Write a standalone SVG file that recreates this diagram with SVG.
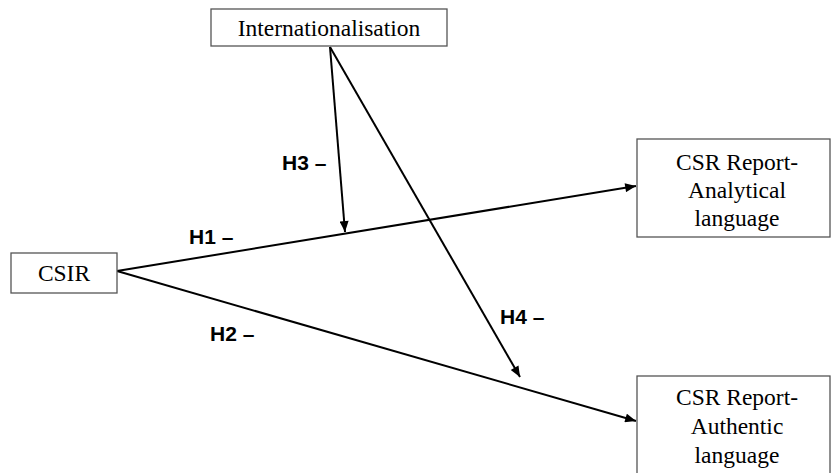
<svg xmlns="http://www.w3.org/2000/svg" width="831" height="473" viewBox="0 0 831 473">
<style>
.box{fill:#fff;stroke:#555;stroke-width:1.3}
.t{font-family:"Liberation Serif","Times New Roman",serif;font-size:23.5px;fill:#000;text-anchor:middle}
.h{font-family:"Liberation Sans",Arial,sans-serif;font-size:21px;font-weight:bold;fill:#000}
.c{stroke:#000;stroke-width:2;fill:none}
</style>
<defs>
<marker id="a" viewBox="0 0 12 10" refX="12" refY="5" markerWidth="12" markerHeight="9" orient="auto" markerUnits="userSpaceOnUse">
<path d="M0,0 L12,5 L0,10 z" fill="#000"/>
</marker>
</defs>
<g id="connectors">
<line class="c" x1="117" y1="271" x2="636" y2="186" marker-end="url(#a)"/>
<line class="c" x1="117" y1="271" x2="636" y2="421" marker-end="url(#a)"/>
<line class="c" x1="330" y1="47" x2="345" y2="232" marker-end="url(#a)"/>
<line class="c" x1="330" y1="47" x2="520" y2="377" marker-end="url(#a)"/>
</g>
<g id="internationalisation">
<rect class="box" x="211" y="9" width="236" height="37"/>
<text class="t" x="329" y="36">Internationalisation</text>
</g>
<g id="csir">
<rect class="box" x="11" y="253" width="106" height="40"/>
<text class="t" x="64" y="281">CSIR</text>
</g>
<g id="analytical">
<rect class="box" x="637" y="139" width="193" height="98"/>
<text class="t" x="737" y="170">CSR Report-</text>
<text class="t" x="737" y="198">Analytical</text>
<text class="t" x="737" y="226">language</text>
</g>
<g id="authentic">
<rect class="box" x="637" y="376" width="193" height="100"/>
<text class="t" x="737" y="405">CSR Report-</text>
<text class="t" x="737" y="434">Authentic</text>
<text class="t" x="737" y="463">language</text>
</g>
<g id="labels">
<text class="h" x="189" y="244">H1 –</text>
<text class="h" x="210" y="341">H2 –</text>
<text class="h" x="282" y="170">H3 –</text>
<text class="h" x="500" y="324">H4 –</text>
</g>
</svg>
